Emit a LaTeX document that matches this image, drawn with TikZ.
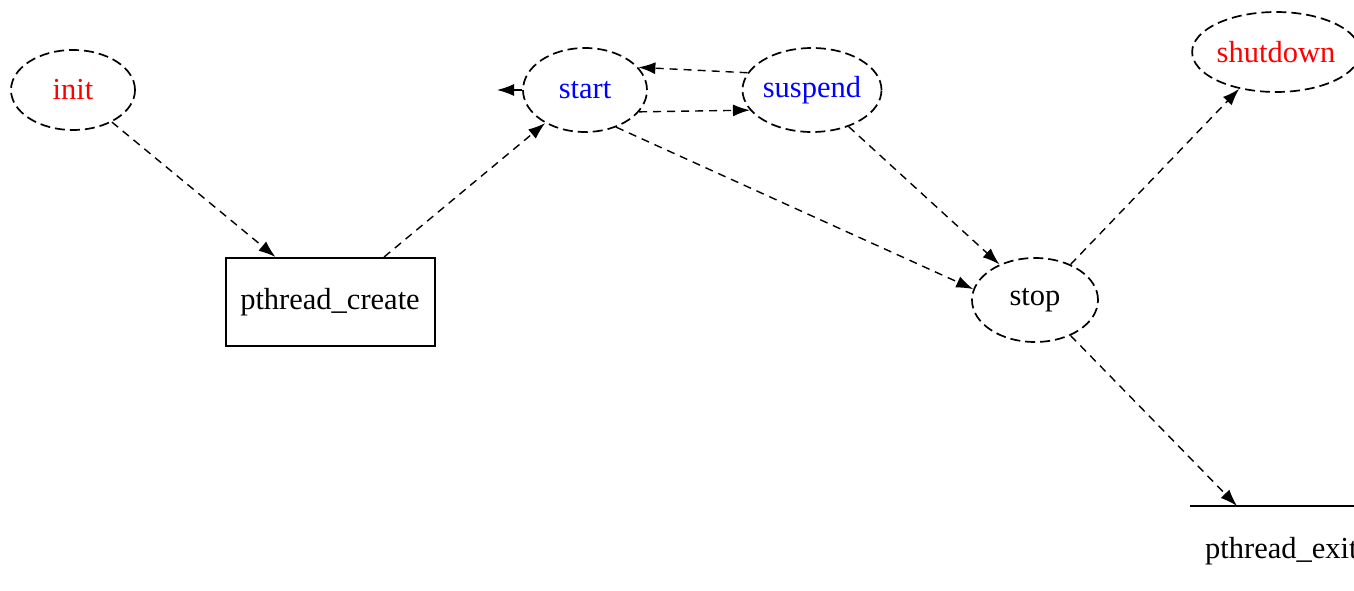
\documentclass[tikz,border=0pt]{standalone}
\usepackage{fontspec}
\setmainfont{Liberation Serif}
\usetikzlibrary{shapes.geometric,arrows.meta}
\definecolor{lblred}{RGB}{255,0,0}
\definecolor{lblblue}{RGB}{0,0,255}
\tikzset{
  labelfont/.style={font=\fontsize{30.5}{36}\selectfont},
  state/.style={ellipse, draw, dash pattern=on 10pt off 5pt, line width=1.7pt,
    inner sep=0pt, labelfont},
  procbox/.style={rectangle, draw, line width=2pt, inner sep=0pt,
    minimum width=209pt, minimum height=88pt, labelfont},
  flow/.style={line width=1.4pt, dash pattern=on 8pt off 6pt,
    -{Latex[length=17pt,width=12pt]}},
  plain/.style={labelfont, inner sep=0pt}
}
\begin{document}
\begin{tikzpicture}[x=1pt,y=-1pt]
\useasboundingbox (0,0) rectangle (1354,591);
\clip (0,0) rectangle (1354,591);
\fill[white] (0,0) rectangle (1354,591);

% states
\node[state, minimum width=124pt, minimum height=80pt, text=lblred] (init) at (73,90) {init};
\node[state, minimum width=124pt, minimum height=84pt, text=lblblue] (start) at (585,90) {start};
\node[state, minimum width=136pt, minimum height=84pt, text=lblblue] (suspend) at (812,90) {suspend};
\node[state, minimum width=154pt, minimum height=80pt, text=lblred] (shutdown) at (1276,52) {shutdown};
\node[state, minimum width=126pt, minimum height=84pt] (stop) at (1035,300) {stop};

% thread calls
\node[procbox] (pcreate) at (330,302) {pthread\_create};
\coordinate (exitL) at (1190,506);
\coordinate (exitR) at (1360,506);
\coordinate (exittop) at (1237,506);
\draw[line width=2pt] (exitL) -- (exitR);
\node[plain, anchor=west] (pexit) at (1205,551) {pthread\_exit};

% transitions
\draw[flow] (init) -- (pcreate);
\draw[flow] (pcreate) -- (start);
\draw[flow] (suspend.165) -- (start.23);
\draw[flow] (start.-22) -- (suspend.198);
\coordinate (startout) at (497,90);
\draw[flow] (start.west) -- (startout);
\draw[flow] (start.-50) -- (stop.170);
\draw[flow] (suspend.-45) -- (stop.135);
\draw[flow] (stop.45) -- (shutdown.225);
\draw[flow] (stop.-45) -- (exittop);
\end{tikzpicture}
\end{document}
